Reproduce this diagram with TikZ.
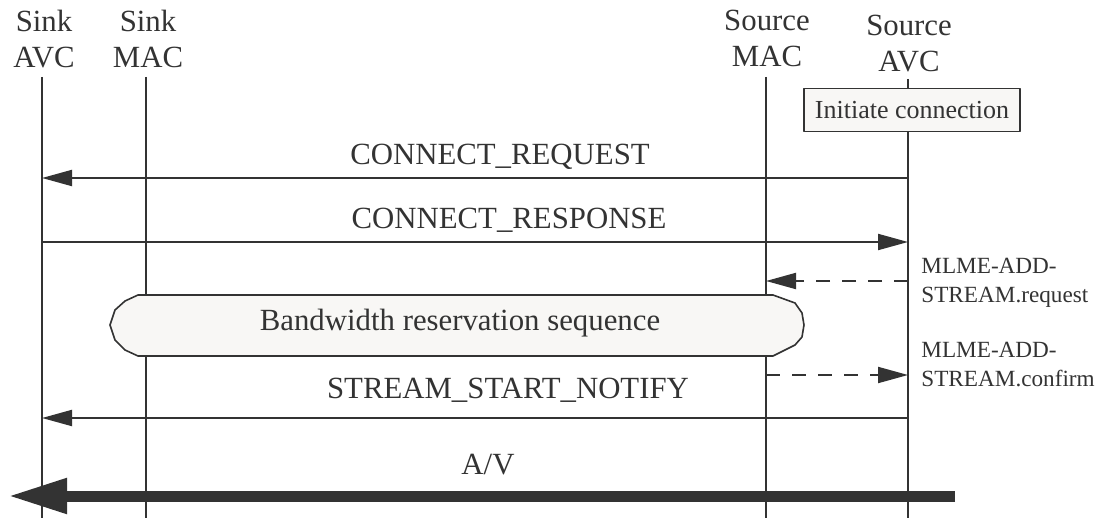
\documentclass[tikz,border=0pt]{standalone}
\usepackage{fontspec}
\setmainfont{Liberation Serif}
\usepackage{tikz}
\usetikzlibrary{arrows.meta}
\definecolor{inkgray}{HTML}{333333}
\definecolor{boxfill}{HTML}{F8F7F5}
\tikzset{
  lifeline/.style={line width=1pt,color=inkgray},
  msg/.style={line width=1pt,color=inkgray,-{Triangle[length=15pt,width=8pt]}},
  dmsg/.style={msg,dash pattern=on 7pt off 6pt},
  avflow/.style={line width=5.5pt,color=inkgray,-{Triangle[length=29.5pt,width=16.5pt]}},
  head/.style={align=center,inner sep=0pt,anchor=north,text=inkgray,font=\fontsize{15.4}{18}\selectfont},
  lbl/.style={inner sep=0pt,anchor=base,text=inkgray,font=\fontsize{15.4}{18}\selectfont},
  note/.style={align=left,inner sep=0pt,anchor=north west,text=inkgray,font=\fontsize{11.6}{14.5}\selectfont},
  actbox/.style={draw=inkgray,fill=boxfill,line width=0.8pt,inner sep=0pt,minimum width=108pt,minimum height=21.5pt,text=inkgray,font=\fontsize{13}{15}\selectfont},
}
\begin{document}
\begin{tikzpicture}[line cap=butt,line join=round,x=0.5pt,y=-0.5pt]
\useasboundingbox (0,0) rectangle (1102,518);
\node[head] (sinkavc) at (44,10) {Sink\\AVC};
\node[head] (sinkmac) at (148,10) {Sink\\MAC};
\node[head] (srcmac) at (767,10) {Source\\MAC};
\node[head] (srcavc) at (909,15) {Source\\AVC};
\coordinate (sinkavc-top) at (42,77);
\coordinate (sinkmac-top) at (146,77);
\coordinate (srcmac-top) at (766,77);
\coordinate (srcavc-top) at (908,79);
\coordinate (bottom) at (0,518);
\foreach \lane in {sinkavc,sinkmac,srcmac,srcavc}
  \draw[lifeline] (\lane-top) -- (\lane-top |- bottom);
\node[actbox] (init) at (912,110) {Initiate connection};
\coordinate (m1) at (0,178);
\coordinate (m2) at (0,242);
\coordinate (m3) at (0,281);
\coordinate (m4) at (0,375);
\coordinate (m5) at (0,418);
\draw[msg] (srcavc-top |- m1) -- (sinkavc-top |- m1);
\node[lbl] (req) at (500,165) {CONNECT\_REQUEST};
\draw[msg] (sinkavc-top |- m2) -- (srcavc-top |- m2);
\node[lbl] (resp) at (509,228) {CONNECT\_RESPONSE};
\draw[dmsg] (srcavc-top |- m3) -- (srcmac-top |- m3);
\node[note] (addreq) at (921,258) {MLME-ADD-\\STREAM.request};
\draw[line width=0.8pt,draw=inkgray,fill=boxfill] (138,295) -- (773,295) -- (795,303) -- (802,313) -- (804,325) -- (802,337) -- (795,345) -- (773,356) -- (138,356) -- (125,350) -- (115,340) -- (110,325) -- (115,310) -- (125,301) -- cycle;
\node[lbl,anchor=center] (bw) at (460,323) {Bandwidth reservation sequence};
\draw[dmsg] (srcmac-top |- m4) -- (srcavc-top |- m4);
\node[note] (addcnf) at (921,342) {MLME-ADD-\\STREAM.confirm};
\draw[msg] (srcavc-top |- m5) -- (sinkavc-top |- m5);
\node[lbl] (notify) at (508,398) {STREAM\_START\_NOTIFY};
\coordinate (av-start) at (955,496);
\coordinate (av-end) at (8,496);
\draw[avflow] (av-start) -- (av-end);
\node[lbl] (av) at (488,474) {A/V};
\end{tikzpicture}
\end{document}
